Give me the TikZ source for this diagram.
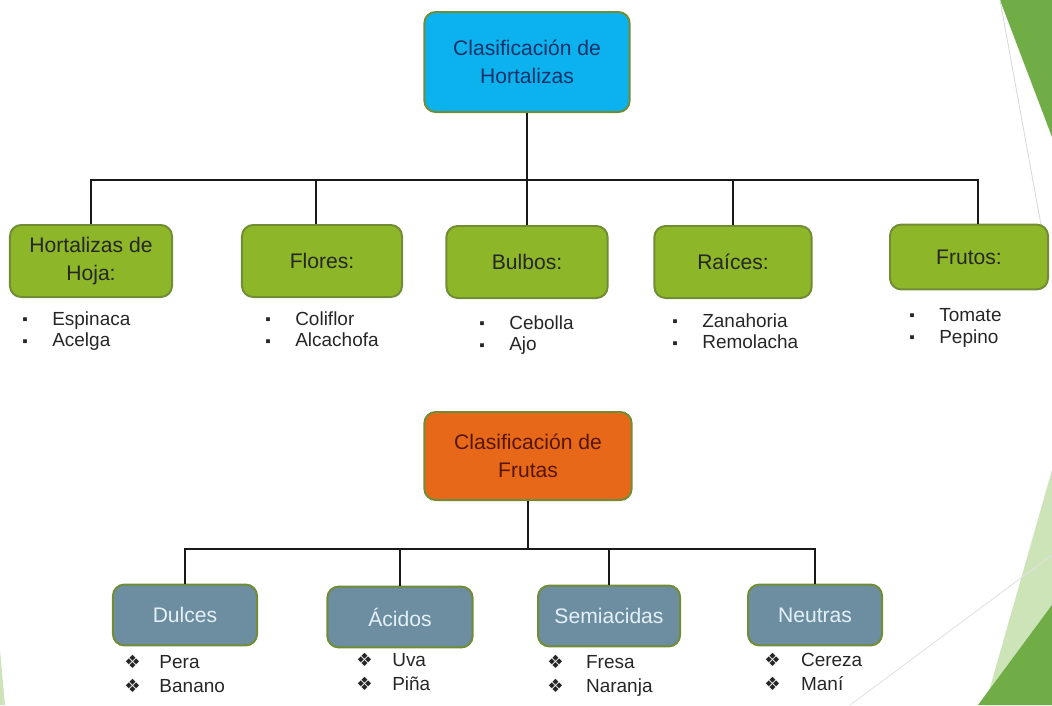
\documentclass[tikz,border=0pt]{standalone}
\usepackage{fontspec}
\setmainfont{Liberation Sans}
\newfontfamily\dingfont{DejaVu Sans}
\usetikzlibrary{positioning}

\definecolor{hortgreen}{RGB}{141,183,40}
\definecolor{hortblue}{RGB}{12,178,238}
\definecolor{frutaorange}{RGB}{232,104,26}
\definecolor{frutasteel}{RGB}{108,142,160}
\definecolor{boxedge}{RGB}{112,140,52}
\definecolor{decodark}{RGB}{112,173,71}
\definecolor{decolight}{RGB}{205,228,185}

\newcommand{\hitem}[1]{\makebox[0.75cm][l]{\raisebox{0.05ex}{\fontsize{11}{11}\selectfont ▪}}#1}
\newcommand{\fitem}[2][0.9cm]{\makebox[#1][l]{{\dingfont\fontsize{13}{13}\selectfont ❖}}#2}

\tikzset{
  box/.style={draw=boxedge,line width=1.4pt,rounded corners=0.28cm,align=center,
    inner sep=0pt,font=\fontsize{15}{20}\selectfont},
  hortbox/.style={box,fill=hortgreen,text=black!85},
  frutabox/.style={box,fill=frutasteel,text={rgb,255:red,228;green,240;blue,250}},
  lista/.style={anchor=north west,align=left,inner sep=0pt,text=black!85,
    font=\fontsize{13.5}{15.6}\selectfont},
  flista/.style={lista,font=\fontsize{13.5}{17}\selectfont},
  conn/.style={line width=1.7pt,black!90}
}

\begin{document}
\begin{tikzpicture}[x=0.025cm,y=-0.025cm]
  \useasboundingbox (0,0) rectangle (1052,705);
  % slide decoration
  \fill[decodark] (1000,0) -- (1052,0) -- (1052,137) -- cycle;
  \draw[black!15,line width=0.6pt] (1000,0) -- (1041,225);
  \fill[decolight] (1052,470) -- (1052,705) -- (985,705) -- cycle;
  \fill[decodark] (1052,605) -- (1052,705) -- (978,705) -- cycle;
  \draw[black!12,line width=0.6pt] (850,705) -- (1052,555);
  \fill[decolight] (0,650) -- (5,705) -- (0,705) -- cycle;

  % hortalizas
  \node[box,fill=hortblue,text={rgb,255:red,20;green,50;blue,105},
    minimum width=5.13cm,minimum height=2.5cm] (hort) at (527,62)
    {Clasificación de\\Hortalizas};
  \begin{scope}[every node/.style={hortbox,minimum height=1.8cm}]
    \node[minimum width=4.05cm] (hoja) at (91,261) {Hortalizas de\\Hoja:};
    \node[minimum width=4.0cm] (flores) at (322,261) {Flores:};
    \node[minimum width=4.03cm] (bulbos) at (527,262) {Bulbos:};
    \node[minimum width=3.93cm] (raices) at (733,262) {Raíces:};
    \node[minimum width=3.95cm,minimum height=1.62cm] (frutos) at (969,257) {Frutos:};
  \end{scope}
  \coordinate (bar) at (527,180);
  \draw[conn] (hort.south) -- (bulbos.north);
  \draw[conn] (hoja.north) |- (bar) -| ([xshift=0.23cm]frutos.north);
  \draw[conn] ([xshift=-0.15cm]flores.north) -- ([xshift=-0.15cm]flores.north |- bar);
  \draw[conn] (raices.north) -- (raices.north |- bar);

  \node[lista] (hoja-l) at (22,311) {\hitem{Espinaca}\\\hitem{Acelga}};
  \node[lista] (flores-l) at (265,311) {\hitem{Coliflor}\\\hitem{Alcachofa}};
  \node[lista] (bulbos-l) at (479,315) {\hitem{Cebolla}\\\hitem{Ajo}};
  \node[lista] (raices-l) at (672,313) {\hitem{Zanahoria}\\\hitem{Remolacha}};
  \node[lista] (frutos-l) at (909,308) {\hitem{Tomate}\\\hitem{Pepino}};

  % frutas
  \node[box,fill=frutaorange,text={rgb,255:red,85;green,22;blue,0},
    minimum width=5.18cm,minimum height=2.2cm] (frutas) at (528,456)
    {Clasificación de\\Frutas};
  \begin{scope}[every node/.style={frutabox,minimum height=1.52cm}]
    \node[minimum width=3.6cm] (dulces) at (185,615) {Dulces};
    \node[minimum width=3.63cm] (acidos) at (400,617) {Ácidos};
    \node[minimum width=3.55cm] (semi) at (609,616) {Semiacidas};
    \node[minimum width=3.35cm] (neutras) at (815,615) {Neutras};
  \end{scope}
  \coordinate (bar2) at (528,549);
  \draw[conn] (frutas.south) -- (bar2);
  \draw[conn] (dulces.north) |- (bar2) -| (neutras.north);
  \draw[conn] (acidos.north) -- (acidos.north |- bar2);
  \draw[conn] (semi.north) -- (semi.north |- bar2);

  \node[flista] (dulces-l) at (124,655) {\fitem[0.88cm]{Pera}\\\fitem[0.88cm]{Banano}};
  \node[flista] (acidos-l) at (356,653) {\fitem{Uva}\\\fitem{Piña}};
  \node[flista] (semi-l) at (547,655) {\fitem[0.97cm]{Fresa}\\\fitem[0.97cm]{Naranja}};
  \node[flista] (neutras-l) at (764,653) {\fitem[0.92cm]{Cereza}\\\fitem[0.92cm]{Maní}};
\end{tikzpicture}
\end{document}
